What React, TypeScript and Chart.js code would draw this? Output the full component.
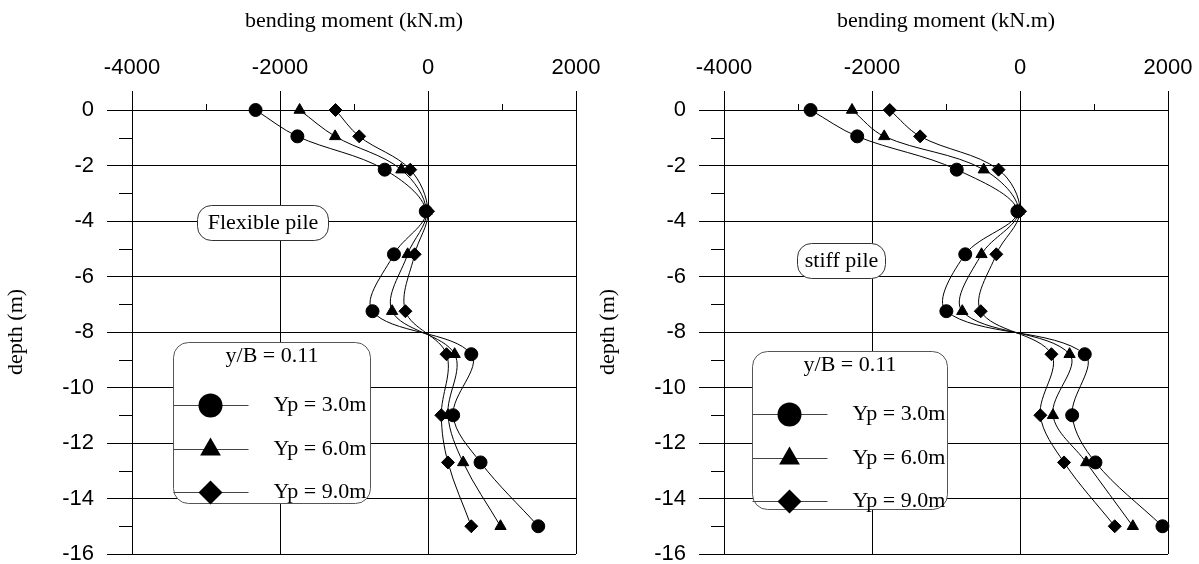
import React, { useEffect, useRef } from 'react';
import { Chart, registerables } from 'chart.js';

Chart.register(...registerables);

// ---- data ----
const depths = [0, -0.95, -2.15, -3.65, -5.2, -7.25, -8.8, -11.0, -12.7, -15.0];

const flexibleYp3 = [-2330, -1765, -585, -30, -460, -750, 585, 340, 710, 1490];
const flexibleYp6 = [-1735, -1255, -360, -20, -275, -485, 360, 270, 475, 980];
const flexibleYp9 = [-1250, -930, -240, 0, -180, -305, 250, 180, 270, 585];

const stiffYp3 = [-2830, -2200, -855, -35, -740, -995, 875, 705, 1020, 1925];
const stiffYp6 = [-2270, -1835, -490, -20, -520, -780, 670, 445, 895, 1525];
const stiffYp9 = [-1760, -1350, -290, 0, -320, -530, 425, 275, 595, 1280];

const seriesLabels = ['Yp = 3.0m', 'Yp = 6.0m', 'Yp = 9.0m'];
const pointStyles = ['circle', 'triangle', 'rectRot'];

const xTickValues = [-4000, -2000, 0, 2000];
const xMinorTicks = [-3000, -1000, 1000];
const yTickValues = [-16, -14, -12, -10, -8, -6, -4, -2, 0];
const yMinorTicks = [-15, -13, -11, -9, -7, -5, -3, -1];

const xTitle = 'bending moment (kN.m)';
const yTitle = 'depth (m)';
const legendTitle = 'y/B = 0.11';
const flexibleNote = 'Flexible pile';
const stiffNote = 'stiff pile';

// ---- styling ----
const SERIF = "'Liberation Serif', 'Times New Roman', serif";
const SANS = "'Liberation Sans', Arial, sans-serif";

function roundRectPath(ctx: CanvasRenderingContext2D, x: number, y: number, w: number, h: number, r: number) {
  ctx.beginPath();
  ctx.moveTo(x + r, y);
  ctx.lineTo(x + w - r, y);
  ctx.arcTo(x + w, y, x + w, y + r, r);
  ctx.lineTo(x + w, y + h - r);
  ctx.arcTo(x + w, y + h, x + w - r, y + h, r);
  ctx.lineTo(x + r, y + h);
  ctx.arcTo(x, y + h, x, y + h - r, r);
  ctx.lineTo(x, y + r);
  ctx.arcTo(x, y, x + r, y, r);
  ctx.closePath();
}

function drawMarker(ctx: CanvasRenderingContext2D, style: string, x: number, y: number, r: number) {
  ctx.beginPath();
  if (style === 'circle') {
    ctx.arc(x, y, r, 0, Math.PI * 2);
  } else if (style === 'triangle') {
    for (let k = 0; k < 3; k++) {
      const a = (k * 2 * Math.PI) / 3;
      const px = x + Math.sin(a) * r;
      const py = y - Math.cos(a) * r;
      if (k === 0) ctx.moveTo(px, py);
      else ctx.lineTo(px, py);
    }
    ctx.closePath();
  } else {
    ctx.moveTo(x - r, y);
    ctx.lineTo(x, y - r);
    ctx.lineTo(x + r, y);
    ctx.lineTo(x, y + r);
    ctx.closePath();
  }
  ctx.fill();
}

const decorPlugin = {
  id: 'pileDecor',
  beforeDatasetsDraw(chart: any, _args: any, opts: any) {
    const { ctx, chartArea: a, scales } = chart;
    ctx.save();
    // minor ticks
    ctx.strokeStyle = '#000';
    ctx.lineWidth = 1;
    ctx.beginPath();
    for (const v of xMinorTicks) {
      const px = Math.round(scales.x.getPixelForValue(v)) + 0.5;
      ctx.moveTo(px, a.top - 6);
      ctx.lineTo(px, a.top);
    }
    for (const v of yMinorTicks) {
      const py = Math.round(scales.y.getPixelForValue(v)) + 0.5;
      ctx.moveTo(a.left - 13, py);
      ctx.lineTo(a.left, py);
    }
    ctx.stroke();

    // note box
    const n = opts.note;
    const nx = a.left + n.x + 0.5;
    const ny = a.top + n.y + 0.5;
    roundRectPath(ctx, nx, ny, n.w, n.h, 14);
    ctx.fillStyle = '#fff';
    ctx.fill();
    ctx.strokeStyle = '#333';
    ctx.stroke();
    ctx.fillStyle = '#000';
    ctx.font = `22px ${SERIF}`;
    ctx.textAlign = 'center';
    ctx.textBaseline = 'middle';
    ctx.fillText(n.text, nx + n.w / 2, ny + n.h / 2);

    // legend box
    const L = opts.legend;
    const lx = a.left + L.x + 0.5;
    const ly = a.top + L.y + 0.5;
    roundRectPath(ctx, lx, ly, L.w, L.h, 15);
    ctx.fillStyle = '#fff';
    ctx.fill();
    ctx.strokeStyle = '#555';
    ctx.stroke();
    ctx.fillStyle = '#000';
    ctx.textAlign = 'center';
    ctx.fillText(legendTitle, lx + L.w / 2, ly + 14);
    const rows = [62, 106, 149];
    seriesLabels.forEach((label, i) => {
      const ry = Math.round(ly + rows[i]) + 0.5;
      ctx.strokeStyle = '#444';
      ctx.beginPath();
      ctx.moveTo(lx, ry);
      ctx.lineTo(lx + 75, ry);
      ctx.stroke();
      ctx.fillStyle = '#000';
      drawMarker(ctx, pointStyles[i], lx + 37, ry, 12);
      ctx.textAlign = 'left';
      ctx.fillText(label, lx + 100, ry);
    });
    ctx.restore();
  },
};

function makeConfig(values: number[][], note: any, legend: any, padRight: number): any {
  return {
    type: 'scatter',
    data: {
      datasets: values.map((vals, i) => ({
        label: seriesLabels[i],
        data: depths.map((d, j) => ({ x: vals[j], y: d })),
        showLine: true,
        tension: 0.35,
        borderColor: '#000',
        borderWidth: 1,
        pointStyle: pointStyles[i],
        pointRadius: 6.5,
        pointBorderWidth: 1,
        pointBackgroundColor: '#000',
        pointBorderColor: '#000',
        clip: false,
        fill: false,
      })),
    },
    options: {
      animation: false,
      responsive: false,
      events: [],
      layout: { padding: { left: 0, top: 0, right: padRight, bottom: 10 } },
      plugins: {
        legend: { display: false },
        tooltip: { enabled: false },
        pileDecor: { note, legend },
      },
      scales: {
        x: {
          type: 'linear',
          position: 'top',
          min: -4000,
          max: 2000,
          afterBuildTicks: (s: any) => {
            s.ticks = xTickValues.map((v) => ({ value: v }));
          },
          afterFit: (s: any) => {
            s.height = 110;
            s.paddingLeft = 0;
            s.paddingRight = 0;
          },
          ticks: {
            callback: (v: any) => String(v),
            font: { family: SANS, size: 22 },
            color: '#000',
            padding: 10,
            maxRotation: 0,
            autoSkip: false,
          },
          grid: { color: '#000', lineWidth: 1, tickLength: 19, tickColor: '#000' },
          border: { color: '#000', width: 1 },
          title: {
            display: true,
            text: xTitle,
            font: { family: SERIF, size: 22 },
            color: '#000',
            padding: { top: 8, bottom: 0 },
          },
        },
        y: {
          type: 'linear',
          position: 'left',
          min: -16,
          max: 0,
          afterBuildTicks: (s: any) => {
            s.ticks = yTickValues.map((v) => ({ value: v }));
          },
          afterFit: (s: any) => {
            s.width = 132;
            s.paddingTop = 0;
            s.paddingBottom = 0;
          },
          ticks: {
            callback: (v: any) => String(v),
            font: { family: SANS, size: 22 },
            color: '#000',
            padding: 13,
            autoSkip: false,
          },
          grid: { color: '#000', lineWidth: 1, tickLength: 25, tickColor: '#000' },
          border: { color: '#000', width: 1 },
          title: {
            display: true,
            text: yTitle,
            font: { family: SERIF, size: 22 },
            color: '#000',
            padding: { top: 3, bottom: 0 },
          },
        },
      },
    },
    plugins: [decorPlugin],
  };
}

function PileChart(props: { values: number[][]; note: any; legend: any; left: number; width: number }) {
  const ref = useRef<HTMLCanvasElement>(null);
  useEffect(() => {
    const chart = new Chart(ref.current as HTMLCanvasElement, makeConfig(props.values, props.note, props.legend, props.width - 576));
    return () => chart.destroy();
  }, []);
  return (
    <canvas
      ref={ref}
      width={props.width}
      height={564}
      style={{ position: 'absolute', left: props.left, top: 0, width: props.width, height: 564 }}
    />
  );
}

export default function App() {
  return (
    <div style={{ position: 'absolute', left: 0, top: 0, width: 1199, height: 564, overflow: 'hidden', background: '#fff' }}>
      <PileChart
        values={[flexibleYp3, flexibleYp6, flexibleYp9]}
        note={{ text: flexibleNote, x: 65, y: 95, w: 131, h: 35 }}
        legend={{ x: 41, y: 232, w: 197, h: 161 }}
        left={0}
        width={610}
      />
      <PileChart
        values={[stiffYp3, stiffYp6, stiffYp9]}
        note={{ text: stiffNote, x: 73, y: 133, w: 88, h: 35 }}
        legend={{ x: 28, y: 241, w: 195, h: 158 }}
        left={592}
        width={607}
      />
    </div>
  );
}
